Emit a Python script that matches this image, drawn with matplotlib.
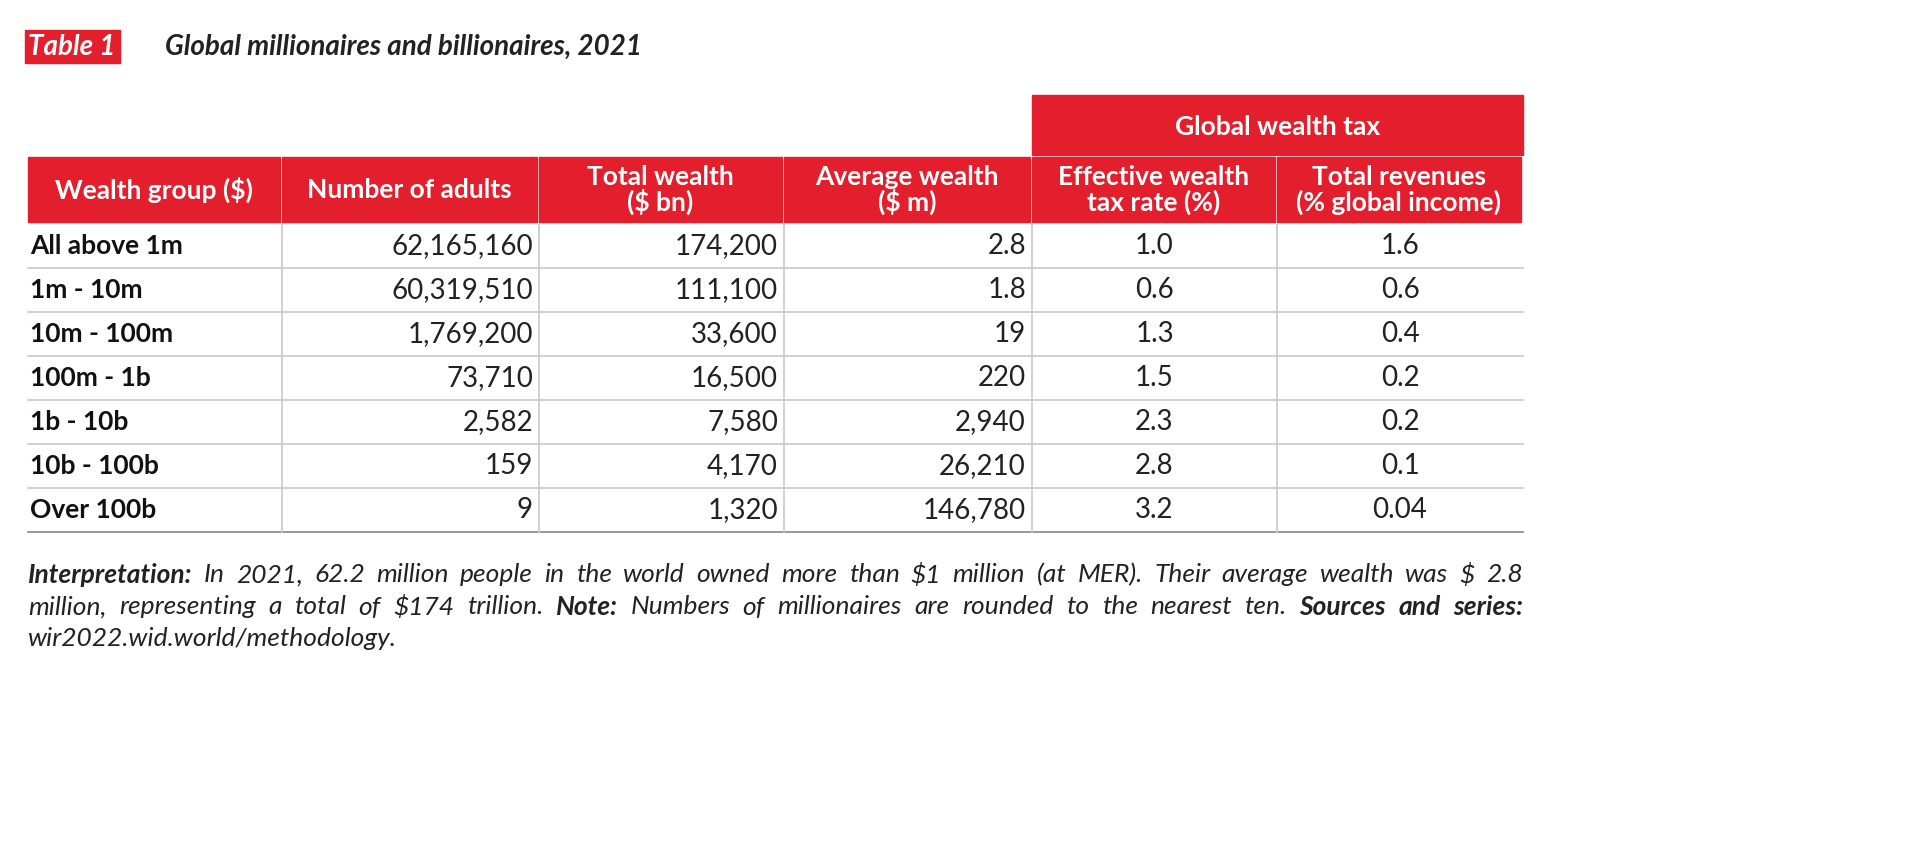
import matplotlib
matplotlib.use("Agg")
import matplotlib.pyplot as plt
from matplotlib.patches import Rectangle

plt.rcParams['font.family'] = ['Lato', 'DejaVu Sans']
plt.rcParams['text.parse_math'] = False

RED = '#E31E2D'
GRID = '#c8c8c8'

title = "Global millionaires and billionaires, 2021"
headers = ["Wealth group ($)", "Number of adults", "Total wealth\n($ bn)",
           "Average wealth\n($ m)", "Effective wealth\ntax rate (%)",
           "Total revenues\n(% global income)"]
groups = ["All above 1m", "1m - 10m", "10m - 100m", "100m - 1b",
          "1b - 10b", "10b - 100b", "Over 100b"]
adults = ["62,165,160", "60,319,510", "1,769,200", "73,710", "2,582", "159", "9"]
total_wealth = ["174,200", "111,100", "33,600", "16,500", "7,580", "4,170", "1,320"]
avg_wealth = ["2.8", "1.8", "19", "220", "2,940", "26,210", "146,780"]
tax_rate = ["1.0", "0.6", "1.3", "1.5", "2.3", "2.8", "3.2"]
revenues = ["1.6", "0.6", "0.4", "0.2", "0.2", "0.1", "0.04"]

footnote = [
    [("Interpretation:", 'bold'), ("In 2021, 62.2 million people in the world owned more than $1 million (at MER). Their average wealth was $ 2.8", 'normal')],
    [("million, representing a total of $174 trillion.", 'normal'), ("Note:", 'bold'), ("Numbers of millionaires are rounded to the nearest ten.", 'normal'), ("Sources and series:", 'bold')],
    [("wir2022.wid.world/methodology.", 'normal')],
]

fig = plt.figure(figsize=(19.2, 8.42), dpi=100)
ax = fig.add_axes([0, 0, 1, 1])
ax.set_xlim(0, 1920)
ax.set_ylim(842, 0)
ax.axis('off')

# title
ax.add_patch(Rectangle((25, 30), 95, 33, color=RED))
ax.text(72, 47, "Table 1", color='white', fontsize=20, style='italic',
        weight='bold', ha='center', va='center')
ax.text(165, 47, title, fontsize=20, style='italic', weight='bold',
        ha='left', va='center', color='#222222')

cols = [28, 282, 539, 784, 1032, 1277, 1523]
gap = 2
ax.add_patch(Rectangle((cols[4], 95), cols[6] - cols[4], 60, color=RED))
ax.text((cols[4] + cols[6]) / 2, 127, "Global wealth tax", color='white',
        fontsize=19, weight='bold', ha='center', va='center')
for i, h in enumerate(headers):
    ax.add_patch(Rectangle((cols[i], 157), cols[i + 1] - cols[i] - gap, 65, color=RED))
    ax.text((cols[i] + cols[i + 1] - gap) / 2, 190, h, color='white', fontsize=19,
            weight='bold', ha='center', va='center', linespacing=1.0)

top, rh = 224, 44
data = [groups, adults, total_wealth, avg_wealth, tax_rate, revenues]
for r in range(len(groups)):
    yc = top + rh * r + rh / 2
    ax.plot([cols[0], cols[6]], [top + rh * (r + 1)] * 2,
            color=GRID if r < len(groups) - 1 else '#888888', lw=1.2)
    for c in range(6):
        v = data[c][r]
        if c == 0:
            ax.text(cols[0] + 2, yc, v, fontsize=19, weight='bold', ha='left', va='center', color='#111111')
        elif c <= 3:
            ax.text(cols[c + 1] - 6, yc, v, fontsize=20, ha='right', va='center', color='#222222')
        else:
            ax.text((cols[c] + cols[c + 1]) / 2, yc, v, fontsize=20, ha='center', va='center', color='#222222')
for c in range(1, 6):
    ax.plot([cols[c], cols[c]], [top, top + rh * len(groups)], color=GRID, lw=1.2)

# footnote, justified between the table edges
fig.canvas.draw()
renderer = fig.canvas.get_renderer()
inv = ax.transData.inverted()
left, right = cols[0], cols[6]
for li, line in enumerate(footnote):
    y = 575 + li * 32
    words = [(wd, w) for txt, w in line for wd in txt.split(' ')]
    arts = []
    for wd, w in words:
        t = ax.text(0, y, wd, fontsize=19, style='italic', weight=w,
                    ha='left', va='center', color='#222222')
        bb = t.get_window_extent(renderer)
        width = inv.transform((bb.x1, 0))[0] - inv.transform((bb.x0, 0))[0]
        arts.append((t, width))
    total = sum(wd for _, wd in arts)
    if li < len(footnote) - 1:
        space = (right - left - total) / (len(arts) - 1)
    else:
        space = 6
    x = left
    for t, wd in arts:
        t.set_x(x)
        x += wd + space

fig.savefig("out.png", dpi=100)
